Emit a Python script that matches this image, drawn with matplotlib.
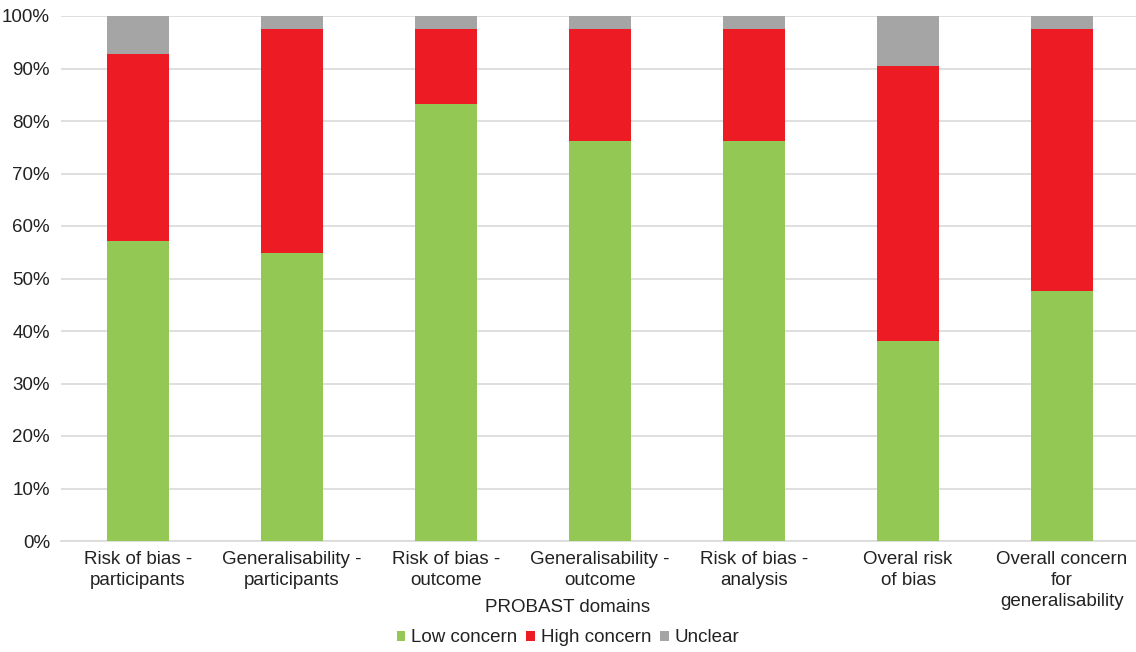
import matplotlib
matplotlib.use("Agg")
import matplotlib.pyplot as plt
from matplotlib.ticker import PercentFormatter
import numpy as np

plt.rcParams['font.family'] = ['Liberation Sans', 'DejaVu Sans']

categories = [
    "Risk of bias -\nparticipants",
    "Generalisability -\nparticipants",
    "Risk of bias -\noutcome",
    "Generalisability -\noutcome",
    "Risk of bias -\nanalysis",
    "Overal risk\nof bias",
    "Overall concern\nfor\ngeneralisability",
]
low_concern = [57.1, 54.8, 83.3, 76.2, 76.2, 38.1, 47.6]
high_concern = [35.7, 42.8, 14.3, 21.4, 21.4, 52.4, 50.0]
unclear = [7.2, 2.4, 2.4, 2.4, 2.4, 9.5, 2.4]

colors = {"Low concern": "#92C853", "High concern": "#ED1C24", "Unclear": "#A5A5A5"}
text_color = "#222222"

fig = plt.figure(figsize=(11.36, 6.52), dpi=100)
ax = fig.add_axes([61 / 1136, 1 - 541 / 652, 1 - 61 / 1136, (541 - 16) / 652])

x = np.arange(len(categories))
w = 0.4
low = np.array(low_concern)
high = np.array(high_concern)
unc = np.array(unclear)
ax.bar(x, low, w, color=colors["Low concern"], label="Low concern", zorder=3)
ax.bar(x, high, w, bottom=low, color=colors["High concern"], label="High concern", zorder=3)
ax.bar(x, unc, w, bottom=low + high, color=colors["Unclear"], label="Unclear", zorder=3)

ax.set_ylim(0, 100)
ax.set_xlim(-0.5, 6.48)
ax.set_yticks(np.arange(0, 101, 10))
ax.yaxis.set_major_formatter(PercentFormatter(decimals=0))
ax.grid(axis="y", color="#D9D9D9", linewidth=1.2, zorder=0)
for s in ["top", "right", "left"]:
    ax.spines[s].set_visible(False)
ax.spines["bottom"].set_color("#D9D9D9")
ax.spines["bottom"].set_linewidth(1.2)
ax.tick_params(axis="both", length=0, labelsize=13.5, colors=text_color)
ax.tick_params(axis="y", pad=8)
ax.tick_params(axis="x", pad=7.5)
ax.set_xticks(x)
ax.set_xticklabels(categories, linespacing=1.28)

# axis title placed in figure coordinates so the three-line label doesn't push it down
fig.text(0.5, 1 - 608 / 652, "PROBAST domains", ha="center", va="center",
         fontsize=13.5, color=text_color)
fig.legend(loc="center", bbox_to_anchor=(0.5, 1 - 638 / 652), ncol=3, frameon=False,
           fontsize=13.5, handlelength=0.45, handleheight=0.45, handletextpad=0.3,
           columnspacing=0.5, labelcolor=text_color, borderpad=0)

fig.savefig("out.png", dpi=100)
